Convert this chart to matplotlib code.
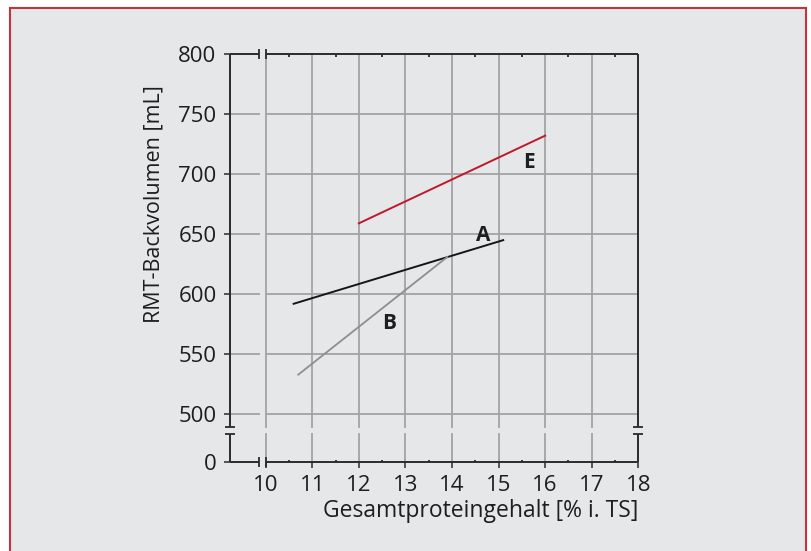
import matplotlib
matplotlib.use("Agg")
import matplotlib.pyplot as plt
from matplotlib.patches import Rectangle
from matplotlib.ticker import FixedLocator

plt.rcParams['font.family'] = ['Open Sans', 'DejaVu Sans']

# ---- data ----
x_ticks = [10, 11, 12, 13, 14, 15, 16, 17, 18]
y_ticks = [460, 500, 550, 600, 650, 700, 750, 800]
y_ticklabels = ["0", "500", "550", "600", "650", "700", "750", "800"]
x_minor = [10.5, 11.5, 12.5, 13.5, 14.5, 15.5, 16.5, 17.5]

line_E_x = [12.0, 16.0]
line_E_y = [659, 732]
line_A_x = [10.6, 15.1]
line_A_y = [592, 645]
line_B_x = [10.7, 13.9]
line_B_y = [533, 631]

labels = ["E", "A", "B"]
label_x = [15.66, 14.67, 12.65]
label_y = [705.3, 644.4, 571.4]

xlabel = "Gesamtproteingehalt [% i. TS]"
ylabel = "RMT-Backvolumen [mL]"

# ---- styling ----
BG = "#e6e7e9"
RED_BORDER = "#c8303c"
SPINE = "#2b2b2b"
GRID = "#a3a3a3"

XMIN, XMAX = 9.2275, 18.0
YMIN, YMAX = 460.0, 800.0
XB0, XB1 = 9.856, 10.0      # x axis break
YB0, YB1 = 483.6, 489.4     # y axis break

fig = plt.figure(figsize=(8.12, 5.51), dpi=100)
fig.patch.set_facecolor("white")
fig.patches.append(Rectangle((10 / 812, -0.02), (806 - 10) / 812, 1 - 7.8 / 551 + 0.02,
                             transform=fig.transFigure, facecolor=BG,
                             edgecolor=RED_BORDER, linewidth=1.5, zorder=-10))

ax = fig.add_axes([229.7 / 812, 1 - 462.3 / 551, (638.3 - 229.7) / 812, (462.3 - 54) / 551])
ax.set_facecolor(BG)
ax.set_xlim(XMIN, XMAX)
ax.set_ylim(YMIN, YMAX)
for s in ax.spines.values():
    s.set_visible(False)

# grid lines (broken)
for x in x_ticks[:-1]:
    ax.plot([x, x], [YMIN, YB0], color=GRID, lw=1.3, zorder=1)
    ax.plot([x, x], [YB1, YMAX], color=GRID, lw=1.3, zorder=1)
for y in y_ticks[1:-1]:
    ax.plot([XMIN, XB0], [y, y], color=GRID, lw=1.3, zorder=1)
    ax.plot([XB1, XMAX], [y, y], color=GRID, lw=1.3, zorder=1)

# spines (broken)
kw = dict(color=SPINE, lw=1.4, zorder=4, clip_on=False, solid_capstyle='butt')
for xs in (XMIN, XMAX):
    ax.plot([xs, xs], [YMIN, YB0], **kw)
    ax.plot([xs, xs], [YB1, YMAX], **kw)
    ax.plot([xs, xs], [YB0, YB1], marker='_', ms=6.5, mew=1.3, color=SPINE, ls='none', clip_on=False, zorder=4)
for ys in (YMIN, YMAX):
    ax.plot([XMIN, XB0], [ys, ys], **kw)
    ax.plot([XB1, XMAX], [ys, ys], **kw)
    ax.plot([XB0, XB1], [ys, ys], marker='|', ms=6.5, mew=1.3, color=SPINE, ls='none', clip_on=False, zorder=4)

# ticks
ax.set_xticks(x_ticks)
ax.set_xticklabels([str(v) for v in x_ticks])
ax.set_yticks(y_ticks)
ax.set_yticklabels(y_ticklabels)
ax.xaxis.set_minor_locator(FixedLocator(x_minor))
ax.tick_params(axis='both', which='major', direction='out', length=4.5, width=1.1,
               color=SPINE, labelsize=16, labelcolor="#1e1e1e", pad=5)
ax.tick_params(axis='x', which='minor', direction='in', length=1.8, width=1.3,
               color=SPINE, top=True, bottom=True)
ax.tick_params(axis='y', which='minor', left=False, right=False)

# data lines
ax.plot(line_A_x, line_A_y, color="#161616", lw=1.4, zorder=3)
ax.plot(line_B_x, line_B_y, color="#8e8e8e", lw=1.3, zorder=3)
ax.plot(line_E_x, line_E_y, color="#c0182a", lw=1.4, zorder=3)

for t, lx, ly in zip(labels, label_x, label_y):
    ax.text(lx, ly, t, ha='center', va='baseline', fontsize=15, fontweight='bold', color="#1e1e1e", zorder=5)

fig.text(481 / 812, 1 - 516.7 / 551, xlabel, ha='center', va='baseline', fontsize=16.5, color="#1e1e1e")
fig.text(154 / 812, 1 - 204 / 551, ylabel, ha='center', va='center', rotation=90, fontsize=15.5, color="#1e1e1e")

fig.savefig("out.png", dpi=100, facecolor=fig.get_facecolor())
